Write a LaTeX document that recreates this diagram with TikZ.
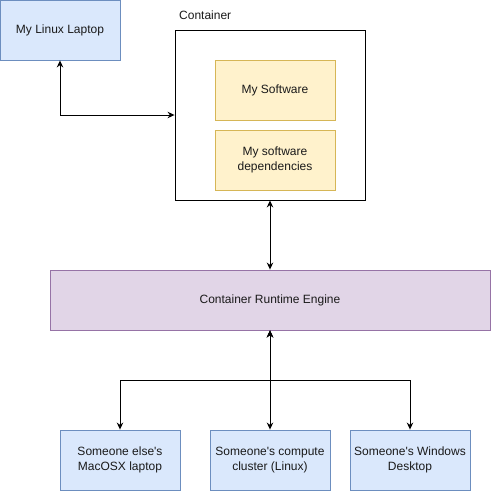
\documentclass[tikz,border=0pt]{standalone}
\usepackage{fontspec}
\setmainfont{Liberation Sans}[Ligatures=TeXOff]
\usetikzlibrary{arrows.meta}
\definecolor{blueF}{HTML}{DAE8FC}
\definecolor{blueS}{HTML}{6C8EBF}
\definecolor{yelF}{HTML}{FFF2CC}
\definecolor{yelS}{HTML}{D6B656}
\definecolor{purF}{HTML}{E1D5E7}
\definecolor{purS}{HTML}{9673A6}
\definecolor{txt}{HTML}{1A1A1A}
\tikzset{
  box/.style={draw, line width=0.9pt, minimum width=120pt, minimum height=60pt, inner sep=0pt, align=center, text=txt, font=\fontsize{12}{14.5}\selectfont},
  bluebox/.style={box, fill=blueF, draw=blueS},
  yelbox/.style={box, fill=yelF, draw=yelS},
  purbox/.style={box, fill=purF, draw=purS},
  conn/.style={line width=1pt, {Stealth[length=7pt,width=6.5pt]}-{Stealth[length=7pt,width=6.5pt]}}
}
\begin{document}
\begin{tikzpicture}[x=1pt,y=-1pt]
\useasboundingbox (0,0) rectangle (491,491);
\node[bluebox] (lap) at (60,30) {My Linux Laptop};
\node[draw, line width=0.9pt, minimum width=190pt, minimum height=170pt, inner sep=0pt] (cont) at (270,115) {};
\node[anchor=west, inner sep=0pt, text=txt, font=\fontsize{12}{14.5}\selectfont] (contlbl) at (179,15) {Container};
\node[yelbox] (sw) at (275,90) {My Software};
\node[yelbox] (dep) at (275,160) {My software\\dependencies};
\node[purbox, minimum width=440pt] (rt) at (270,300) {Container Runtime Engine};
\node[bluebox] (b1) at (120,460) {Someone else's\\MacOSX laptop};
\node[bluebox] (b2) at (270,460) {Someone's compute\\cluster (Linux)};
\node[bluebox] (b3) at (410,460) {Someone's Windows\\Desktop};
\draw[conn] (lap.south) |- (cont.west);
\draw[conn] (cont.south) -- (rt.north);
\draw[conn] (rt.south) -- (b2.north);
\draw[conn] (rt.south) -- ++(0,50) -| (b1.north);
\draw[conn] (rt.south) -- ++(0,50) -| (b3.north);
\end{tikzpicture}
\end{document}
